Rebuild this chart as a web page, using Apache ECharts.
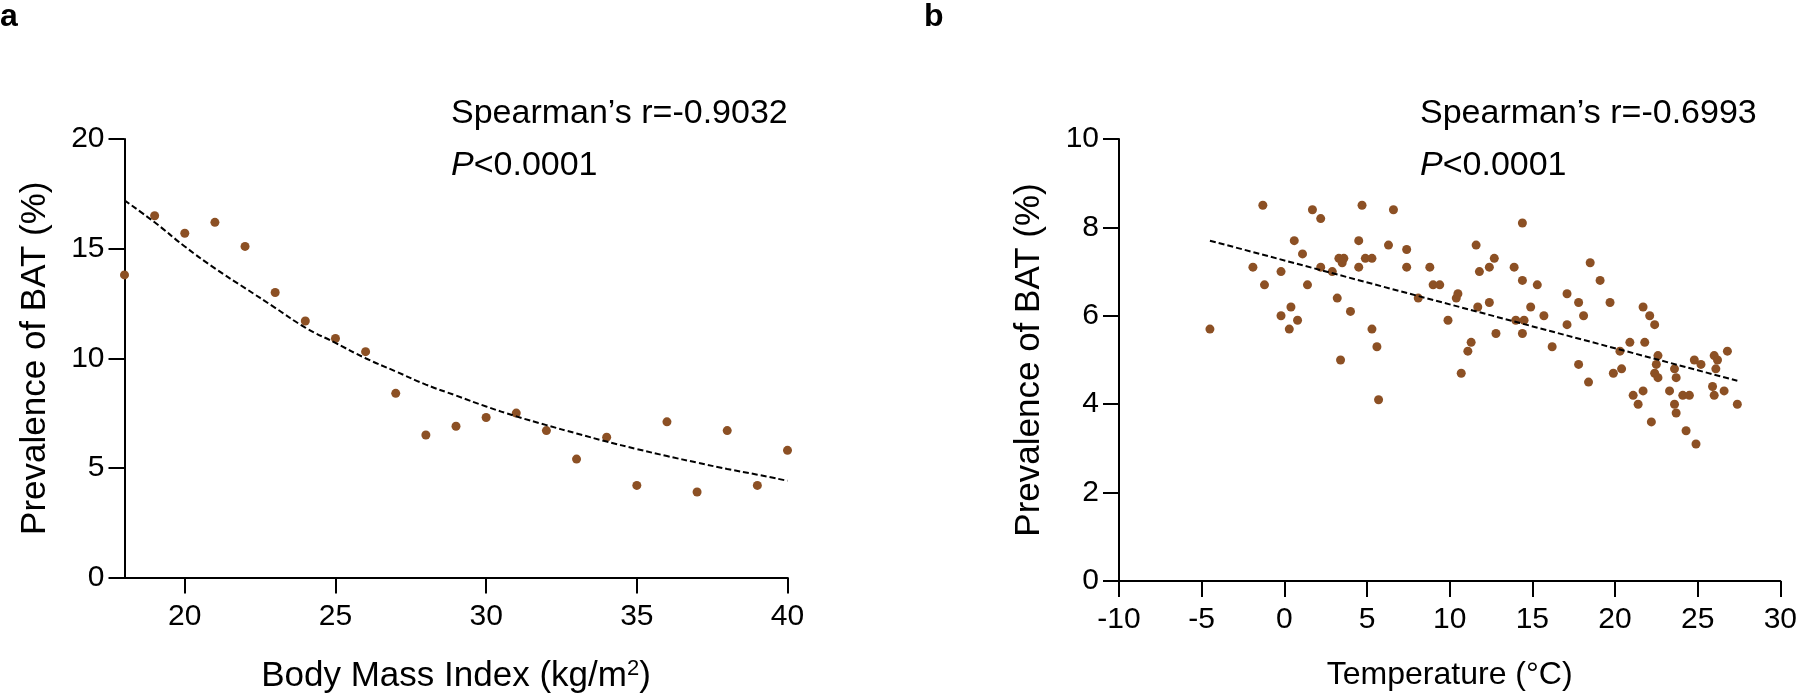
<!DOCTYPE html>
<html>
<head>
<meta charset="utf-8">
<script src="https://cdn.jsdelivr.net/npm/echarts@6/dist/echarts.min.js"></script>
<style>
html,body{margin:0;padding:0;background:#fff;}
#chart{width:1800px;height:699px;}
</style>
</head>
<body>
<div id="chart"></div>
<script>
// Panel a: BMI vs prevalence
const bmi = [18,19,20,21,22,23,24,25,26,27,28,29,30,31,32,33,34,35,36,37,38,39,40];
const batA = [13.8,16.5,15.7,16.2,15.1,13.0,11.7,10.9,10.3,8.4,6.5,6.9,7.3,7.5,6.7,5.4,6.4,4.2,7.1,3.9,6.7,4.2,5.8];
const fitA = [17.2,16.2,15.1,14.1,13.2,12.3,11.4,10.7,10.0,9.4,8.8,8.3,7.8,7.35,6.95,6.57,6.2,5.86,5.54,5.24,4.95,4.69,4.41];
const xTicksA = [20,25,30,35,40];

// Panel b: temperature vs prevalence
const tempB = [-4.5,-1.3,-1.9,-1.2,-0.2,-0.2,0.3,0.4,0.6,0.8,1.1,1.4,1.7,2.2,2.2,2.9,3.2,3.3,3.4,3.5,3.6,4.0,4.5,4.5,4.7,4.9,5.3,5.3,5.6,5.7,6.3,6.6,7.4,7.4,8.1,8.8,9.0,9.4,9.9,10.4,10.5,10.7,11.1,11.3,11.6,11.7,11.8,12.4,12.4,12.7,12.8,13.9,14.0,14.4,14.4,14.4,14.5,14.9,15.3,15.7,16.2,17.1,17.1,17.8,17.8,18.1,18.4,18.5,19.1,19.7,19.9,20.3,20.4,20.9,21.1,21.4,21.7,21.7,21.8,22.1,22.2,22.4,22.4,22.5,22.6,22.6,23.3,23.6,23.6,23.7,23.7,24.1,24.3,24.5,24.8,24.9,25.2,25.9,26.0,26.0,26.1,26.2,26.6,26.8,27.4];
const batB = [5.7,8.5,7.1,6.7,7.0,6.0,5.7,6.2,7.7,5.9,7.4,6.7,8.4,8.2,7.1,7.0,6.4,7.3,5.0,7.2,7.3,6.1,7.7,7.1,8.5,7.3,5.7,7.3,5.3,4.1,7.6,8.4,7.5,7.1,6.4,7.1,6.7,6.7,5.9,6.4,6.5,4.7,5.2,5.4,7.6,6.2,7.0,7.1,6.3,7.3,5.6,7.1,5.9,8.1,6.8,5.6,5.9,6.2,6.7,6.0,5.3,6.5,5.8,6.3,4.9,6.0,4.5,7.2,6.8,6.3,4.7,5.2,4.8,5.4,4.2,4.0,6.2,4.3,5.4,6.0,3.6,5.8,4.7,4.9,5.1,4.6,4.3,4.8,4.0,4.6,3.8,4.2,3.4,4.2,5.0,3.1,4.9,4.4,5.1,4.2,4.8,5.0,4.3,5.2,4.0];
const fitBx = [-4.5, 27.4];
const fitBy = [7.7, 4.53];

const FONT = '"Liberation Sans", Arial, Helvetica, sans-serif';
const DOT = '#8C5024';

const chart = echarts.init(document.getElementById('chart'), null, {renderer:'canvas'});

function axisCommon(){
  return {
    axisLine:{show:true,onZero:false,lineStyle:{color:'#000',width:2}},
    axisTick:{show:true,length:16,lineStyle:{color:'#000',width:2}},
    splitLine:{show:false},
    axisLabel:{color:'#000',fontSize:30,fontFamily:FONT},
    nameTextStyle:{color:'#000',fontFamily:FONT,fontSize:35}
  };
}

const option = {
  animation:false,
  backgroundColor:'#fff',
  grid:[
    {left:124.5,top:139,width:663,height:442},
    {left:1119,top:139,width:662.7,height:442}
  ],
  xAxis:[
    Object.assign(axisCommon(),{
      gridIndex:0,type:'value',min:18,max:40,
      axisTick:{show:true,length:16,customValues:xTicksA,lineStyle:{color:'#000',width:2}},
      axisLabel:{color:'#000',fontSize:30,fontFamily:FONT,margin:24,customValues:xTicksA},
      name:'Body Mass Index (kg/m{sup|2})',nameLocation:'middle',nameGap:80,
      nameTextStyle:{color:'#000',fontFamily:FONT,fontSize:35,rich:{sup:{fontSize:22,verticalAlign:'top',padding:[0,0,16,0],fontFamily:FONT,color:'#000'}}}
    }),
    Object.assign(axisCommon(),{
      gridIndex:1,type:'value',min:-10,max:30,interval:5,
      axisLabel:{color:'#000',fontSize:30,fontFamily:FONT,margin:24},
      name:'Temperature (°C)',nameLocation:'middle',nameGap:78,
      nameTextStyle:{color:'#000',fontFamily:FONT,fontSize:32}
    })
  ],
  yAxis:[
    Object.assign(axisCommon(),{
      gridIndex:0,type:'value',min:0,max:20,interval:5,
      axisLabel:{color:'#000',fontSize:30,fontFamily:FONT,margin:20},
      name:'Prevalence of BAT (%)',nameLocation:'middle',nameGap:72
    }),
    Object.assign(axisCommon(),{
      gridIndex:1,type:'value',min:0,max:10,interval:2,
      axisLabel:{color:'#000',fontSize:30,fontFamily:FONT,margin:20},
      name:'Prevalence of BAT (%)',nameLocation:'middle',nameGap:72
    })
  ],
  series:[
    {type:'scatter',xAxisIndex:0,yAxisIndex:0,symbolSize:9,itemStyle:{color:DOT,opacity:1},
      data:bmi.map((x,i)=>[x,batA[i]]),z:2},
    {type:'line',xAxisIndex:0,yAxisIndex:0,showSymbol:false,smooth:true,
      lineStyle:{color:'#000',width:2,type:[6,3]},
      data:bmi.map((x,i)=>[x,fitA[i]]),z:3},
    {type:'scatter',xAxisIndex:1,yAxisIndex:1,symbolSize:9,itemStyle:{color:DOT,opacity:1},
      data:tempB.map((x,i)=>[x,batB[i]]),z:2},
    {type:'line',xAxisIndex:1,yAxisIndex:1,showSymbol:false,
      lineStyle:{color:'#000',width:2,type:[6,3]},
      data:fitBx.map((x,i)=>[x,fitBy[i]]),z:3}
  ],
  graphic:[
    {type:'text',left:0,top:1,style:{text:'a',fill:'#000',font:'bold 32px '+FONT}},
    {type:'text',left:924,top:1,style:{text:'b',fill:'#000',font:'bold 32px '+FONT}},
    {type:'text',left:451,top:97,style:{text:'Spearman’s r=-0.9032',fill:'#000',font:'34px '+FONT}},
    {type:'text',left:451,top:149,style:{text:'{i|P}<0.0001',fill:'#000',font:'34px '+FONT,
      rich:{i:{fontStyle:'italic',fontSize:34,fontFamily:FONT,fill:'#000'}}}},
    {type:'text',left:1420,top:97,style:{text:'Spearman’s r=-0.6993',fill:'#000',font:'34px '+FONT}},
    {type:'text',left:1420,top:149,style:{text:'{i|P}<0.0001',fill:'#000',font:'34px '+FONT,
      rich:{i:{fontStyle:'italic',fontSize:34,fontFamily:FONT,fill:'#000'}}}}
  ]
};
chart.setOption(option);
</script>
</body>
</html>
